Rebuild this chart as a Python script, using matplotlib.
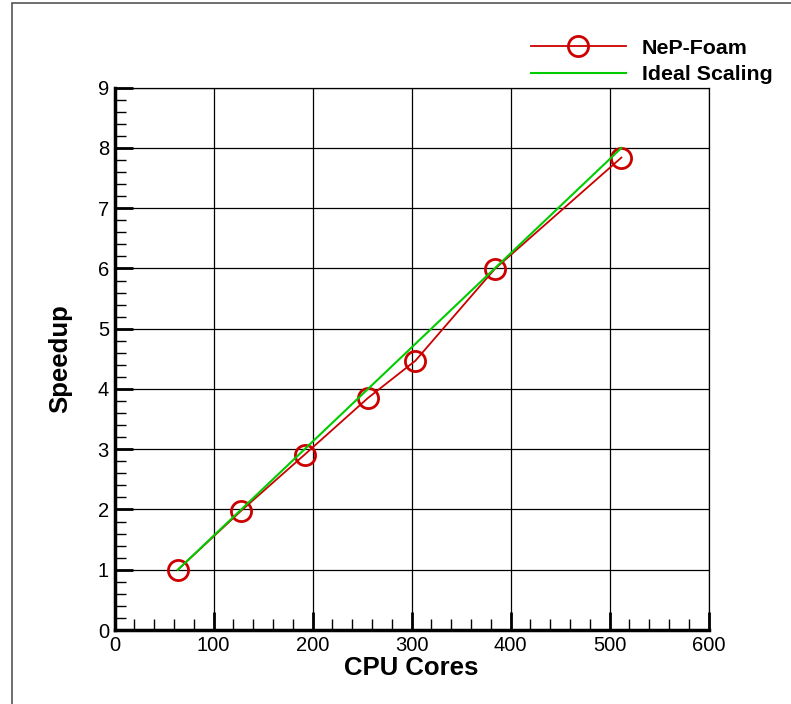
import matplotlib
matplotlib.use("Agg")
import matplotlib.pyplot as plt
from matplotlib.ticker import MultipleLocator
from matplotlib.patches import Rectangle

cores = [64, 128, 192, 256, 304, 384, 512]
speedup = [1.0, 1.98, 2.91, 3.85, 4.47, 5.99, 7.84]
ideal_cores = [64, 512]
ideal_speedup = [1.0, 8.0]

plt.rcParams['font.family'] = ['Liberation Sans', 'DejaVu Sans']

fig = plt.figure(figsize=(7.91, 7.04), dpi=100)
W, H = 791, 704
ax = fig.add_axes([114.5 / W, 1 - 630 / H, (708.5 - 114.5) / W, (630 - 87.7) / H])

# outer frame (only top and left edges visible within image)
fig.patches.append(Rectangle((12 / W, -0.1), 1.2, 1.1 - 3 / H, transform=fig.transFigure,
                             fill=False, edgecolor='#555555', linewidth=1.2))

l1, = ax.plot(cores, speedup, color='#cc0000', linewidth=1.3, marker='o', markersize=14.5,
              markerfacecolor='none', markeredgecolor='#cc0000', markeredgewidth=2, zorder=3)
l2, = ax.plot(ideal_cores, ideal_speedup, color='#00cc00', linewidth=1.5, zorder=4)

ax.set_xlim(0, 600)
ax.set_ylim(0, 9)
ax.xaxis.set_major_locator(MultipleLocator(100))
ax.xaxis.set_minor_locator(MultipleLocator(20))
ax.yaxis.set_major_locator(MultipleLocator(1))
ax.yaxis.set_minor_locator(MultipleLocator(0.2))
ax.grid(True, which='major', color='black', linewidth=0.9)
ax.set_axisbelow(True)

ax.tick_params(which='major', direction='in', length=13, width=2, labelsize=14.5,
               top=False, right=False, pad=4)
ax.tick_params(which='minor', direction='in', length=8, width=1, top=False, right=False)

for s in ['left', 'bottom']:
    ax.spines[s].set_linewidth(2.5)
for s in ['top', 'right']:
    ax.spines[s].set_linewidth(0.9)

ax.set_xlabel('CPU Cores', fontsize=18.5, fontweight='bold', labelpad=1)
ax.set_ylabel('Speedup', fontsize=18.5, fontweight='bold', labelpad=18)

fig.legend([l1, l2], ['NeP-Foam', 'Ideal Scaling'], loc='upper right',
           bbox_to_anchor=(783 / W, 1 - 28 / H), frameon=False,
           prop={'weight': 'bold', 'size': 15.4}, handlelength=4.4,
           handletextpad=0.75, labelspacing=0.35, borderpad=0)

fig.savefig('out.png', dpi=100)
